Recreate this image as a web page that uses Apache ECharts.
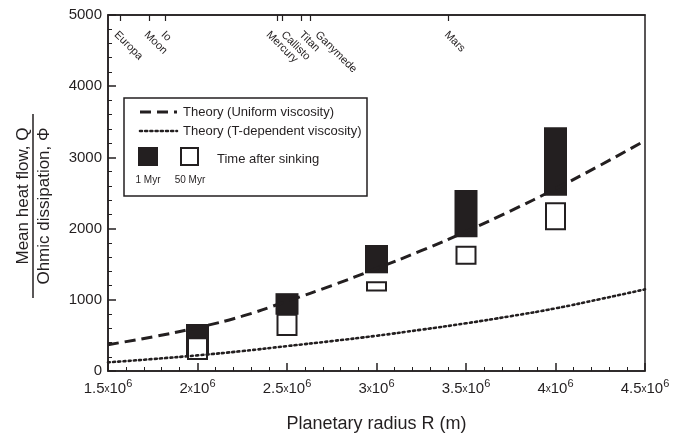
<!DOCTYPE html>
<html>
<head>
<meta charset="utf-8">
<script src="https://cdn.jsdelivr.net/npm/echarts@6/dist/echarts.min.js"></script>
<style>html,body{margin:0;padding:0;background:#fff;}#c{width:674px;height:441px;}</style>
</head>
<body>
<div id="c"></div>
<script>
// ---- data ----
const radiusGrid = [1.5e6, 1.75e6, 2e6, 2.25e6, 2.5e6, 2.75e6, 3e6, 3.25e6, 3.5e6, 3.75e6, 4e6, 4.25e6, 4.5e6];
const uniformTheory = [370, 480, 610, 770, 980, 1200, 1440, 1690, 1960, 2250, 2560, 2890, 3235];
const tDependentTheory = [122, 168, 220, 280, 350, 420, 495, 580, 670, 770, 880, 1010, 1147];
const boxRadius = [2e6, 2.5e6, 3e6, 3.5e6, 4e6];
const oneMyrLow = [225, 790, 1372, 1878, 2463];
const oneMyrHigh = [660, 1093, 1770, 2542, 3422];
const fiftyMyrLow = [169, 506, 1130, 1505, 1990];
const fiftyMyrHigh = [460, 790, 1245, 1745, 2355];
const planetNames = ['Europa', 'Moon', 'Io', 'Mercury', 'Callisto', 'Titan', 'Ganymede', 'Mars'];
const planetRadius = [1.567e6, 1.729e6, 1.818e6, 2.444e6, 2.472e6, 2.578e6, 2.628e6, 3.40e6];
const xTickMantissa = ['1.5', '2', '2.5', '3', '3.5', '4', '4.5'];
const xTickValues = [1.5e6, 2e6, 2.5e6, 3e6, 3.5e6, 4e6, 4.5e6];

// style: horizontal pixel nudges of the planet labels (to keep them apart, as in the original)
const planetLabelNudgePx = [-4, -3, -2, -9, 1, 0, 7, -2];

const FONT = 'Liberation Sans, Arial, Helvetica, sans-serif';
const INK = '#231f20';
const X_MIN = 1.5e6, X_MAX = 4.5e6, PLOT_W = 674 - 108 - 29;
const unitsPerPx = (X_MAX - X_MIN) / PLOT_W;
const planetLabelAnchor = planetRadius.map((r, i) => r + planetLabelNudgePx[i] * unitsPerPx);

const lineUniform = radiusGrid.map((r, i) => [r, uniformTheory[i]]);
const lineTdep = radiusGrid.map((r, i) => [r, tDependentTheory[i]]);
const blackBoxes = boxRadius.map((r, i) => [r, oneMyrLow[i], oneMyrHigh[i]]);
const whiteBoxes = boxRadius.map((r, i) => [r, fiftyMyrLow[i], fiftyMyrHigh[i]]);

function boxRenderer(width, fill, stroke, lw) {
  return function (params, api) {
    const lo = api.coord([api.value(0), api.value(1)]);
    const hi = api.coord([api.value(0), api.value(2)]);
    return {
      type: 'rect',
      shape: { x: lo[0] - width / 2, y: hi[1], width: width, height: lo[1] - hi[1] },
      style: { fill: fill, stroke: stroke, lineWidth: lw }
    };
  };
}

const chart = echarts.init(document.getElementById('c'), null, { renderer: 'canvas' });
chart.setOption({
  backgroundColor: '#fff',
  animation: false,
  grid: { left: 108, right: 29, top: 15, bottom: 70, show: true, borderColor: INK, borderWidth: 1.5, backgroundColor: 'transparent' },
  xAxis: [{
    type: 'value', min: X_MIN, max: X_MAX, interval: 0.5e6, position: 'bottom',
    axisLine: { show: true, onZero: false, lineStyle: { color: INK, width: 1.5 } },
    axisTick: { show: true, inside: true, length: 8, lineStyle: { color: INK, width: 1.5 } },
    minorTick: { show: true, splitNumber: 5, length: 4, lineStyle: { color: INK, width: 1 } },
    splitLine: { show: false },
    axisLabel: {
      margin: 7, color: INK,
      formatter: function (v) {
        const idx = xTickValues.findIndex(t => Math.abs(t - v) < 1);
        const m = idx >= 0 ? xTickMantissa[idx] : String(v / 1e6);
        return '{n|' + m + '}{x|x}{n|10}{s|6}';
      },
      rich: {
        n: { fontSize: 15, fontFamily: FONT, color: INK, lineHeight: 22 },
        x: { fontSize: 10, fontFamily: FONT, color: INK, lineHeight: 22 },
        s: { fontSize: 11, fontFamily: FONT, color: INK, lineHeight: 11, verticalAlign: 'top' }
      }
    },
    name: 'Planetary radius R (m)', nameLocation: 'middle', nameGap: 44,
    nameTextStyle: { fontSize: 18, fontFamily: FONT, color: INK }
  }, {
    type: 'value', min: X_MIN, max: X_MAX, position: 'top',
    axisLine: { show: true, onZero: false, lineStyle: { color: INK, width: 1.5 } },
    axisTick: { show: true, inside: true, length: 6, customValues: planetRadius, lineStyle: { color: INK, width: 1.2 } },
    splitLine: { show: false },
    axisLabel: {
      show: true, inside: true, rotate: 45, margin: 18, customValues: planetLabelAnchor,
      fontSize: 11, fontFamily: FONT, color: INK,
      formatter: function (v) {
        const idx = planetLabelAnchor.findIndex(t => Math.abs(t - v) < 1);
        return idx >= 0 ? planetNames[idx] : '';
      }
    }
  }],
  yAxis: [{
    type: 'value', min: 0, max: 5000, interval: 1000,
    axisLine: { show: true, lineStyle: { color: INK, width: 1.5 } },
    axisTick: { show: true, inside: true, length: 8, lineStyle: { color: INK, width: 1.5 } },
    minorTick: { show: true, splitNumber: 5, length: 4, lineStyle: { color: INK, width: 1 } },
    splitLine: { show: false },
    axisLabel: { fontSize: 15, fontFamily: FONT, color: INK, margin: 6, formatter: function (v) { return String(v); } }
  }],
  series: [{
    type: 'custom', name: '1 Myr', renderItem: boxRenderer(23, INK, INK, 0),
    data: blackBoxes, encode: { x: 0, y: [1, 2] }, z: 2
  }, {
    type: 'custom', name: '50 Myr', renderItem: boxRenderer(19, '#fff', INK, 2),
    data: whiteBoxes, encode: { x: 0, y: [1, 2] }, z: 2
  }, {
    type: 'line', name: 'Theory (Uniform viscosity)', data: lineUniform, smooth: true, showSymbol: false, z: 5,
    lineStyle: { color: INK, width: 3, type: [11, 6] }
  }, {
    type: 'line', name: 'Theory (T-dependent viscosity)', data: lineTdep, smooth: true, showSymbol: false, z: 5,
    lineStyle: { color: INK, width: 2.6, type: [2, 3.2], cap: 'round' }
  }],
  graphic: [
    // y-axis title as a fraction
    { type: 'text', x: 23, y: 196, rotation: Math.PI / 2, style: { text: 'Mean heat flow, Q', font: '17px ' + FONT, fill: INK, align: 'center', verticalAlign: 'middle' } },
    { type: 'line', shape: { x1: 33, y1: 114, x2: 33, y2: 298 }, style: { stroke: INK, lineWidth: 1.5 } },
    { type: 'text', x: 44, y: 206, rotation: Math.PI / 2, style: { text: 'Ohmic dissipation, Φ', font: '17px ' + FONT, fill: INK, align: 'center', verticalAlign: 'middle' } },
    // legend
    { type: 'rect', shape: { x: 124, y: 98, width: 243, height: 98 }, style: { fill: '#fff', stroke: INK, lineWidth: 1.5 }, z: 10 },
    { type: 'line', shape: { x1: 140, y1: 112, x2: 177, y2: 112 }, style: { stroke: INK, lineWidth: 3, lineDash: [11, 6] }, z: 11 },
    { type: 'text', x: 183, y: 112, style: { text: 'Theory (Uniform viscosity)', font: '13px ' + FONT, fill: INK, verticalAlign: 'middle' }, z: 11 },
    { type: 'line', shape: { x1: 140, y1: 131, x2: 177, y2: 131 }, style: { stroke: INK, lineWidth: 2.6, lineDash: [2, 3.2], lineCap: 'round' }, z: 11 },
    { type: 'text', x: 183, y: 131, style: { text: 'Theory (T-dependent viscosity)', font: '13px ' + FONT, fill: INK, verticalAlign: 'middle' }, z: 11 },
    { type: 'rect', shape: { x: 138, y: 147, width: 20, height: 19 }, style: { fill: INK }, z: 11 },
    { type: 'rect', shape: { x: 181, y: 148, width: 17, height: 17 }, style: { fill: '#fff', stroke: INK, lineWidth: 2 }, z: 11 },
    { type: 'text', x: 217, y: 159, style: { text: 'Time after sinking', font: '13px ' + FONT, fill: INK, verticalAlign: 'middle' }, z: 11 },
    { type: 'text', x: 148, y: 180, style: { text: '1 Myr', font: '10px ' + FONT, fill: INK, align: 'center', verticalAlign: 'middle' }, z: 11 },
    { type: 'text', x: 190, y: 180, style: { text: '50 Myr', font: '10px ' + FONT, fill: INK, align: 'center', verticalAlign: 'middle' }, z: 11 }
  ]
});
</script>
</body>
</html>
